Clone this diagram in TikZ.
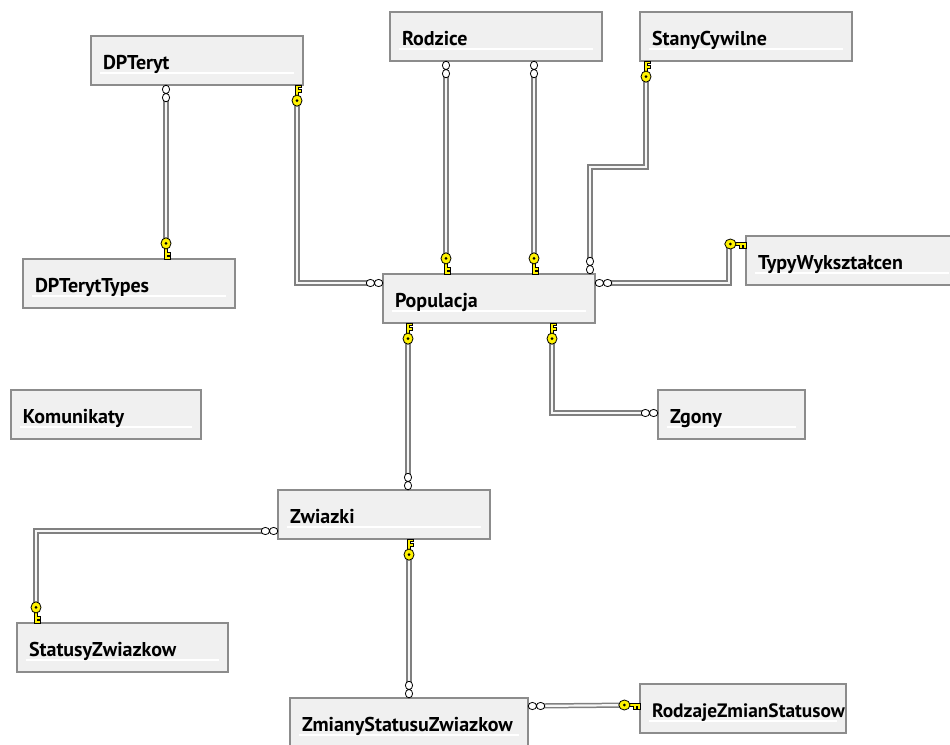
\documentclass[tikz,border=0pt]{standalone}
\usepackage{fontspec}
\setmainfont{PT Sans}
\usepackage{tikz}

\begin{document}
\begin{tikzpicture}[x=1pt,y=-1pt,
	keyend/.pic={
		\draw[fill=yellow,line width=0.6pt] (-1.7,0) -- (3.8,0) -- (3.8,2.6) -- (1.7,2.6) -- (1.7,4.2) -- (3.8,4.2) -- (3.8,6.8) -- (1.7,6.8) -- (1.7,11) -- (-1.7,11) -- cycle;
		\draw[fill=yellow,line width=0.8pt] (0,15.6) ellipse (5 and 5.6);
		\fill (0,15.6) circle (1.5);
	},
	manyend/.pic={
		\draw[fill=white,line width=0.8pt] (0,4.4) ellipse (3.6 and 4.2) (0,12.6) ellipse (3.6 and 4.2);
	}]
	\tikzstyle{t-node}=[rectangle,draw=black!45,fill=black!6,line width=1.2pt,anchor=north west,outer sep=0pt,
		minimum height=49pt,inner xsep=12pt,text height=21pt,text depth=4pt,align=left,
		font=\fontsize{20}{23}\selectfont\bfseries,
		path picture={\draw[white,line width=1.3pt] ([shift={(9,-12)}]path picture bounding box.south west) -- ([shift={(-9,-12)}]path picture bounding box.south east);}]
	\tikzstyle{rel}=[draw=black!50,double=black!3,line width=1.5pt,double distance=2.2pt]
	\useasboundingbox (0,0) rectangle (950,744);

	% tables
	\node[t-node,text width=188pt] (t-dpteryt)	at (91,36)	{DPTeryt};
	\node[t-node,text width=188pt] (t-rodzice)	at (390,12)	{Rodzice};
	\node[t-node,text width=188pt] (t-stany)	at (640,12)	{StanyCywilne};
	\node[t-node,text width=188pt] (t-dptypes)	at (23,259)	{DPTerytTypes};
	\node[t-node,text width=188pt] (t-pop)		at (383,274)	{Populacja};
	\node[t-node,text width=188pt] (t-typy)		at (746,236)	{TypyWykształcen};
	\node[t-node,text width=166pt] (t-kom)		at (11,390)	{Komunikaty};
	\node[t-node,text width=123pt] (t-zgony)	at (658,390)	{Zgony};
	\node[t-node,text width=188pt] (t-zwiazki)	at (278,490)	{Zwiazki};
	\node[t-node,text width=187pt] (t-statusy)	at (17,623)	{StatusyZwiazkow};
	\node[t-node,text width=214pt] (t-zmiany)	at (290,698)	{ZmianyStatusuZwiazkow};
	\node[t-node,text width=182pt,font=\fontsize{19.4}{23}\selectfont\bfseries] (t-rodzaje) at (640,684) {RodzajeZmianStatusow};

	% relation end points
	\coordinate (dt-many)	at ([xshift=75pt]t-dpteryt.south west);
	\coordinate (dt-key)	at ([xshift=206pt]t-dpteryt.south west);
	\coordinate (ty-key)	at ([xshift=143pt]t-dptypes.north west);
	\coordinate (ro-many1)	at ([xshift=56pt]t-rodzice.south west);
	\coordinate (ro-many2)	at ([xshift=144pt]t-rodzice.south west);
	\coordinate (st-key)	at ([xshift=6pt]t-stany.south west);
	\coordinate (wy-key)	at ([yshift=-8pt]t-typy.north west);
	\coordinate (po-left)	at ([yshift=-9pt]t-pop.north west);
	\coordinate (po-right)	at ([yshift=-9pt]t-pop.north east);
	\coordinate (po-key1)	at ([xshift=63pt]t-pop.north west);
	\coordinate (po-key2)	at ([xshift=151pt]t-pop.north west);
	\coordinate (po-many)	at ([xshift=207pt]t-pop.north west);
	\coordinate (po-down1)	at ([xshift=25pt]t-pop.south west);
	\coordinate (po-down2)	at ([xshift=169pt]t-pop.south west);
	\coordinate (zg-many)	at ([yshift=-23pt]t-zgony.north west);
	\coordinate (zw-many)	at ([xshift=130pt]t-zwiazki.north west);
	\coordinate (zw-left)	at ([yshift=-41pt]t-zwiazki.north west);
	\coordinate (zw-key)	at ([xshift=131pt]t-zwiazki.south west);
	\coordinate (sz-key)	at ([xshift=19pt]t-statusy.north west);
	\coordinate (zm-many)	at ([xshift=119pt]t-zmiany.north west);
	\coordinate (zm-right)	at ([yshift=-8pt]t-zmiany.north east);
	\coordinate (rz-key)	at ([yshift=-21pt]t-rodzaje.north west);

	% relations
	\draw[rel,shorten <=15pt,shorten >=16pt] (dt-many) -- (ty-key);
	\draw[rel,shorten <=16pt,shorten >=15pt] (dt-key) |- (po-left);
	\draw[rel,shorten <=15pt,shorten >=16pt] (ro-many1) -- (po-key1);
	\draw[rel,shorten <=15pt,shorten >=16pt] (ro-many2) -- (po-key2);
	\draw[rel,shorten <=16pt,shorten >=15pt] (st-key) -- ++(0,106) -| (po-many);
	\draw[rel,shorten <=12pt,shorten >=15pt] (wy-key) -- ++(-17,0) |- (po-right);
	\draw[rel,shorten <=16pt,shorten >=15pt] (po-down1) -- (zw-many);
	\draw[rel,shorten <=16pt,shorten >=15pt] (po-down2) |- (zg-many);
	\draw[rel,shorten <=15pt,shorten >=16pt] (zw-left) -| (sz-key);
	\draw[rel,shorten <=16pt,shorten >=15pt] (zw-key) -- (zm-many);
	\draw[rel,shorten <=15pt,shorten >=13pt] (zm-right) -- (rz-key);

	% ends
	\pic at (dt-many) {manyend};
	\pic at (dt-key) {keyend};
	\pic[yscale=-1] at (ty-key) {keyend};
	\pic at (ro-many1) {manyend};
	\pic at (ro-many2) {manyend};
	\pic at (st-key) {keyend};
	\pic[rotate=-90] at (wy-key) {keyend};
	\pic[rotate=-90] at (po-left) {manyend};
	\pic[rotate=90] at (po-right) {manyend};
	\pic[yscale=-1] at (po-key1) {keyend};
	\pic[yscale=-1] at (po-key2) {keyend};
	\pic[yscale=-1] at (po-many) {manyend};
	\pic at (po-down1) {keyend};
	\pic at (po-down2) {keyend};
	\pic[rotate=-90] at (zg-many) {manyend};
	\pic[yscale=-1] at (zw-many) {manyend};
	\pic[rotate=-90] at (zw-left) {manyend};
	\pic at (zw-key) {keyend};
	\pic[yscale=-1] at (sz-key) {keyend};
	\pic[yscale=-1] at (zm-many) {manyend};
	\pic[rotate=90] at (zm-right) {manyend};
	\pic[rotate=-90] at (rz-key) {keyend};
\end{tikzpicture}
\end{document}
